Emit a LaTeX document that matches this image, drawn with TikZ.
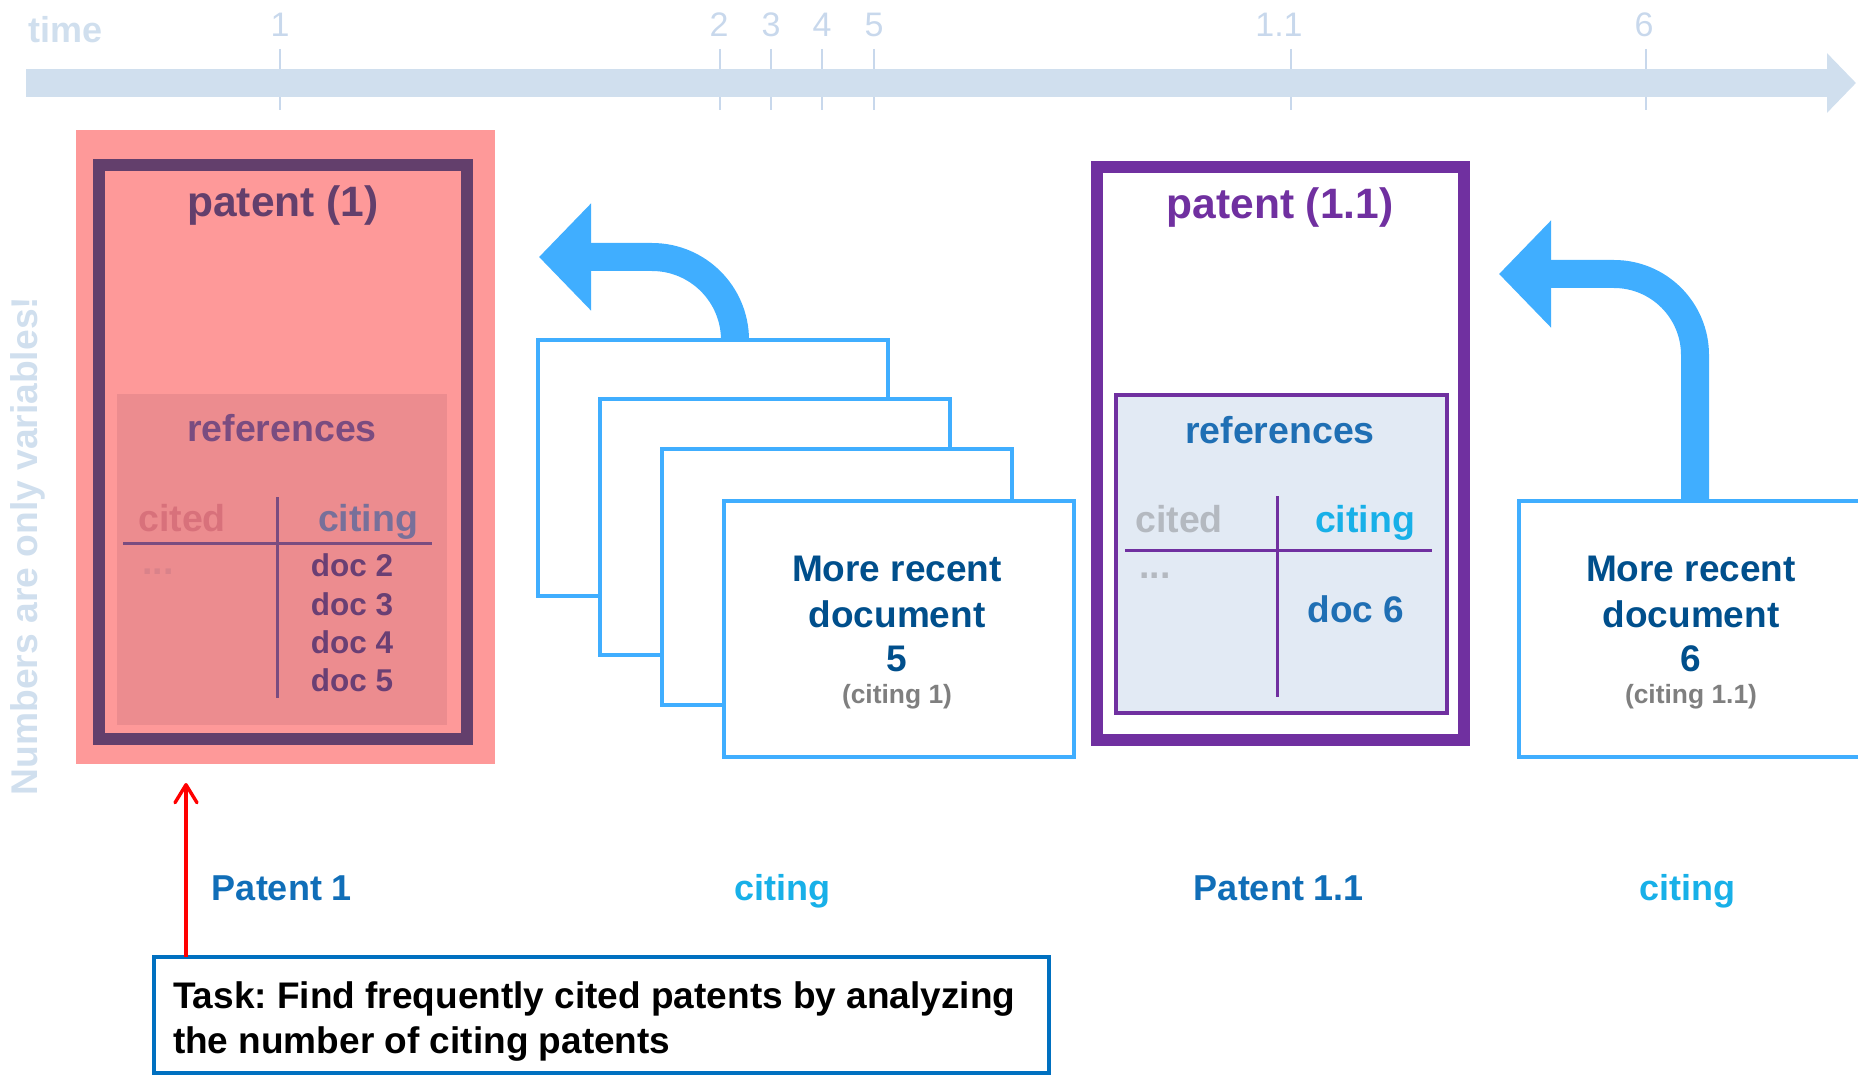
\documentclass[tikz,border=0pt]{standalone}
\usepackage{fontspec}
\setmainfont{Liberation Sans}
\usetikzlibrary{arrows.meta,calc}
\frenchspacing

\definecolor{tlblue}{HTML}{D0DFEE}
\definecolor{tickblue}{HTML}{C8D8EC}
\definecolor{pinkbg}{HTML}{FE9999}
\definecolor{pinkref}{HTML}{EC8C8F}
\definecolor{darkplum}{HTML}{633F6C}
\definecolor{plumtext}{HTML}{7A4C80}
\definecolor{citedpink}{HTML}{D8717B}
\definecolor{citingplum}{HTML}{78709A}
\definecolor{docplum}{HTML}{6A3F74}
\definecolor{dotspink}{HTML}{D9828A}
\definecolor{cardblue}{HTML}{40AEFF}
\definecolor{navy}{HTML}{004F8C}
\definecolor{midgray}{HTML}{7F7F7F}
\definecolor{violet}{HTML}{7030A0}
\definecolor{refsfill}{HTML}{E2EAF4}
\definecolor{refsblue}{HTML}{1F6FB4}
\definecolor{softgray}{HTML}{B4B9C0}
\definecolor{cyanblue}{HTML}{18B0E8}
\definecolor{labelblue}{HTML}{106EB8}
\definecolor{taskblue}{HTML}{0070C0}

\begin{document}
\begin{tikzpicture}[x=0.5pt,y=-0.5pt,
  every node/.style={inner sep=0pt,outer sep=0pt},
  bold/.style={font=\fontsize{#1}{#1}\selectfont\bfseries},
  plain/.style={font=\fontsize{#1}{#1}\selectfont},
  card/.style={draw=cardblue,line width=2.25pt,fill=white,
    minimum width=175pt,minimum height=128pt},
  bend arrow/.style={cardblue,line width=14pt,
    -{Triangle[length=26pt,width=52pt]}},
  tableline/.style={line width=1.5pt},
  ticklabel/.style={plain=17,text=tickblue}]

\useasboundingbox (0,0) rectangle (1858,1075);

% ---- time axis ----
\foreach \x in {280,720,771,822,874,1291,1646}
  \draw[tickblue,line width=0.9pt] (\x,49) -- (\x,110);
\coordinate (t0) at (26,83);
\coordinate (t1) at (1856,83);
\draw[tlblue,line width=14pt,-{Triangle[length=14.5pt,width=29pt]}] (t0) -- (t1);
\node[bold=18,text=tlblue] (timelbl) at (66,30) {time};
\node[ticklabel] (tk1) at (280,25) {1};
\node[ticklabel] (tk2) at (719,25) {2};
\node[ticklabel] (tk3) at (771,25) {3};
\node[ticklabel] (tk4) at (822,25) {4};
\node[ticklabel] (tk5) at (874,25) {5};
\node[ticklabel] (tk11) at (1279,25) {1.1};
\node[ticklabel] (tk6) at (1644,25) {6};

% ---- side note ----
\node[bold=18.6,text=tlblue,rotate=90] (note) at (28,546) {Numbers are only variables!};

% ---- patent (1) ----
\node[fill=pinkbg,minimum width=209.5pt,minimum height=317pt] (p1bg) at (285.5,447) {};
\node[fill=pinkref,minimum width=165pt,minimum height=165.5pt] (p1refs) at (282,559.5) {};
\node[draw=darkplum,line width=6pt,minimum width=184pt,minimum height=287pt] (p1) at (283,452) {};
\node[bold=21.25,text=darkplum] (p1title) at (283,206) {patent (1)};
\node[bold=18.75,text=plumtext] (p1reftitle) at (282,428) {references};
\node[bold=18.75,text=citedpink] (p1cited) at (182,518) {cited};
\node[bold=18.75,text=citingplum] (p1citing) at (368,522) {citing};
\draw[tableline,color=plumtext] (123,543) -- (432,543);
\draw[tableline,color=plumtext] (277,497) -- (277,698);
\node[bold=18.75,text=dotspink] (p1dots) at (158,572) {...};
\node[bold=15.75,text=docplum] (d2) at (352,565) {doc 2};
\node[bold=15.75,text=docplum] (d3) at (352,604) {doc 3};
\node[bold=15.75,text=docplum] (d4) at (352,642) {doc 4};
\node[bold=15.75,text=docplum] (d5) at (352,680) {doc 5};

% ---- stack of citing documents ----
\node[card] (card1) at (713,468) {};
\node[card] (card2) at (775,527) {};
\node[card] (card3) at (837,577) {};
\node[card] (card4) at (899,629) {};
\node[bold=18.5,text=navy] (c4a) at (897,569) {More recent};
\node[bold=18.5,text=navy] (c4b) at (897,614) {document};
\node[bold=18.5,text=navy] (c4c) at (897,659) {5};
\node[bold=13.2,text=midgray] (c4d) at (897,697) {(citing 1)};

\coordinate (a1end) at (539,257);
\draw[bend arrow] ($(card1.north)+(22,0)$) arc[start angle=0,end angle=-90,radius=83] -- (a1end);

% ---- patent (1.1) ----
\node[draw=violet,fill=white,line width=6pt,minimum width=183.5pt,minimum height=286.5pt] (p11) at (1280.5,453.5) {};
\node[draw=violet,fill=refsfill,line width=2pt,minimum width=165.5pt,minimum height=159pt] (p11refs) at (1281.5,554) {};
\node[bold=21.25,text=violet] (p11title) at (1280,208) {patent (1.1)};
\node[bold=18.75,text=refsblue] (p11reftitle) at (1280,430) {references};
\node[bold=18.75,text=softgray] (p11cited) at (1179,519) {cited};
\node[bold=18.75,text=cyanblue] (p11citing) at (1365,523) {citing};
\draw[tableline,color=violet] (1125,550) -- (1432,550);
\draw[tableline,color=violet] (1277,496) -- (1277,697);
\node[bold=18.75,text=softgray] (p11dots) at (1155,576) {...};
\node[bold=18.5,text=refsblue] (d6) at (1356,609) {doc 6};

% ---- citing document 6 ----
\node[card] (card5) at (1694,629) {};
\node[bold=18.5,text=navy] (c5a) at (1691,569) {More recent};
\node[bold=18.5,text=navy] (c5b) at (1691,614) {document};
\node[bold=18.5,text=navy] (c5c) at (1691,659) {6};
\node[bold=13.2,text=midgray] (c5d) at (1691,697) {(citing 1.1)};

\coordinate (a2end) at (1499,274);
\draw[bend arrow] ($(card5.north)+(1,0)$) -- ++(0,-146) arc[start angle=0,end angle=-90,radius=81] -- (a2end);

% ---- bottom labels ----
\node[bold=18,text=labelblue] (lp1) at (282,888) {Patent 1};
\node[bold=18,text=cyanblue] (lc1) at (782,891) {citing};
\node[bold=18,text=labelblue] (lp11) at (1279,888) {Patent 1.1};
\node[bold=18,text=cyanblue] (lc2) at (1687,891) {citing};

% ---- task ----
\node[draw=taskblue,line width=2pt,fill=white,minimum width=447.5pt,minimum height=58pt] (task) at (601.5,1015) {};
\node[text=black,align=left,anchor=north west,
  font=\fontsize{18.5}{22.5}\selectfont\bfseries] (tasktext) at (173,982)
  {Task: Find frequently cited patents by analyzing\\the number of citing patents};

\coordinate (redtip) at (186,783);
\draw[red,line width=1.7pt,-{Straight Barb[length=9pt,width=11pt,round]}] (task.north -| redtip) -- (redtip);

\end{tikzpicture}
\end{document}
